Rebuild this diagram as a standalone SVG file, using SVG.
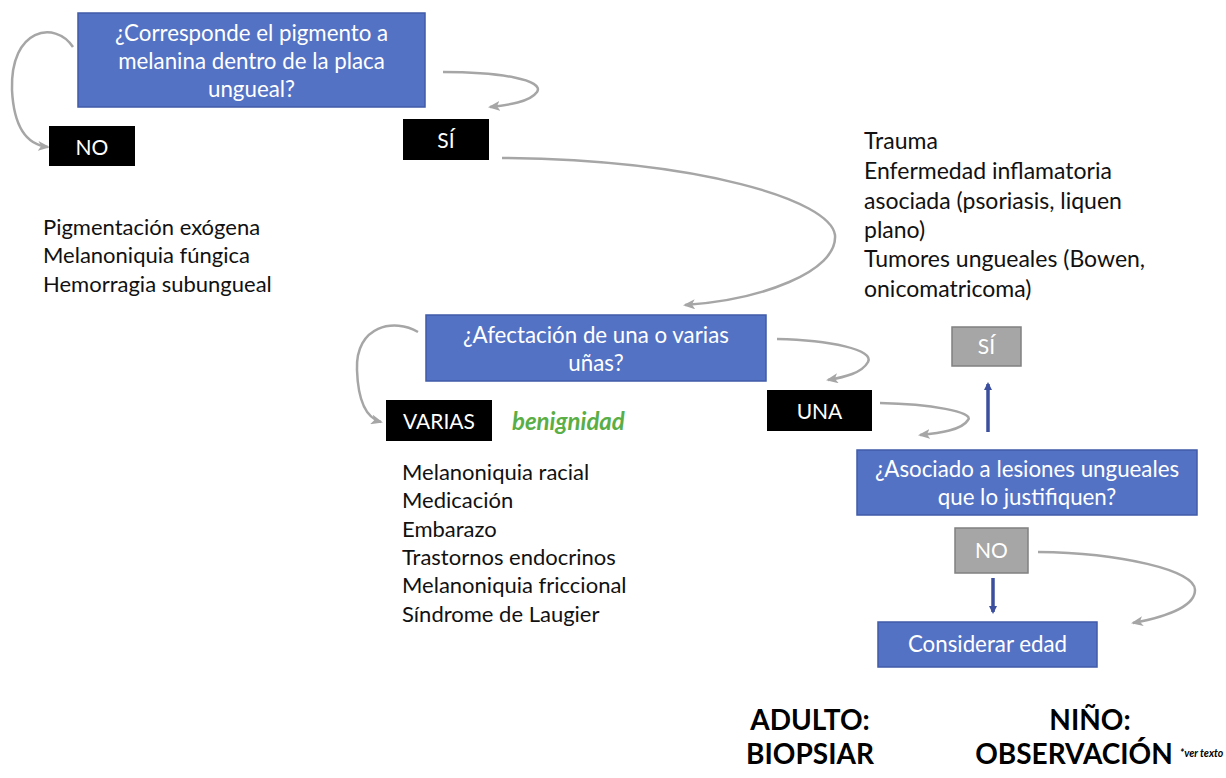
<svg xmlns="http://www.w3.org/2000/svg" width="1226" height="778" viewBox="0 0 1226 778">
<defs>
<style>
.q{fill:#5472C4;stroke:#3F5BA8;stroke-width:1.5}
.b{fill:#000}
.g{fill:#A6A6A6;stroke:#808080;stroke-width:1.5}
.wt{font-family:Lato,"Open Sans",sans-serif;font-size:21px;fill:#fff;text-anchor:middle}
.qt{font-size:22.3px}
.lt{font-family:Lato,"Open Sans",sans-serif;font-size:22px;fill:#111}
.rt{font-size:23px}
.con{fill:none;stroke:#A6A6A6;stroke-width:2.5}
.blu{fill:none;stroke:#3B4F9E;stroke-width:3.5}
.big{font-family:Lato,"Open Sans",sans-serif;font-size:28px;font-weight:bold;fill:#000;text-anchor:middle}
</style>
<marker id="ag" viewBox="0 0 12 10" refX="10" refY="5" markerWidth="12" markerHeight="10" markerUnits="userSpaceOnUse" orient="auto">
<path d="M0 0 L12 5 L0 10 L3 5 Z" fill="#A6A6A6"/>
</marker>
<marker id="ab" viewBox="0 0 8 8" refX="6" refY="4" markerWidth="8" markerHeight="8" markerUnits="userSpaceOnUse" orient="auto">
<path d="M0 0 L8 4 L0 8 Z" fill="#3B4F9E"/>
</marker>
</defs>
<rect width="1226" height="778" fill="#fff"/>

<g id="connectors">
<path class="con" marker-end="url(#ag)" d="M73 47 C55 20 10 28 12 90 C14 130 28 145 48 147"/>
<path class="con" marker-end="url(#ag)" d="M443 72 C500 72 545 80 537 92 C530 102 508 105 490 107"/>
<path class="con" marker-end="url(#ag)" d="M502 158 C700 160 830 200 835 235 C838 272 760 300 685 305"/>
<path class="con" marker-end="url(#ag)" d="M418 332 C395 318 355 325 357 370 C358 400 366 418 381 422"/>
<path class="con" marker-end="url(#ag)" d="M777 339 C830 340 875 350 868 362 C862 373 845 377 828 380"/>
<path class="con" marker-end="url(#ag)" d="M880 403 C930 404 975 412 968 420 C962 430 940 433 920 435"/>
<path class="con" marker-end="url(#ag)" d="M1038 552 C1120 553 1195 570 1195 590 C1195 608 1160 618 1133 623"/>
<path class="blu" marker-end="url(#ab)" d="M988 432 L988 384"/>
<path class="blu" marker-end="url(#ab)" d="M993 578 L993 612"/>
</g>

<g id="q1">
<rect class="q" x="78" y="13" width="347" height="94"/>
<text class="wt qt" x="251.5" y="41">¿Corresponde el pigmento a</text>
<text class="wt qt" x="251.5" y="69">melanina dentro de la placa</text>
<text class="wt qt" x="251.5" y="97">ungueal?</text>
</g>
<g id="no1">
<rect class="b" x="49" y="126" width="86" height="40"/>
<text class="wt" x="92" y="155">NO</text>
</g>
<g id="si1">
<rect class="b" x="403" y="119" width="86" height="41"/>
<text class="wt" x="446" y="148">SÍ</text>
</g>
<g id="list-no">
<text class="lt" x="43" y="235">Pigmentación exógena</text>
<text class="lt" x="43" y="263">Melanoniquia fúngica</text>
<text class="lt" x="43" y="292">Hemorragia subungueal</text>
</g>
<g id="list-si">
<text class="lt rt" x="864" y="149">Trauma</text>
<text class="lt rt" x="864" y="179">Enfermedad inflamatoria</text>
<text class="lt rt" x="864" y="209">asociada (psoriasis, liquen</text>
<text class="lt rt" x="864" y="238">plano)</text>
<text class="lt rt" x="864" y="267">Tumores ungueales (Bowen,</text>
<text class="lt rt" x="864" y="297">onicomatricoma)</text>
</g>
<g id="q2">
<rect class="q" x="426" y="315" width="340" height="66"/>
<text class="wt qt" x="596" y="343">¿Afectación de una o varias</text>
<text class="wt qt" x="596" y="371">uñas?</text>
</g>
<g id="varias">
<rect class="b" x="386" y="400" width="106" height="41"/>
<text class="wt" x="439" y="429">VARIAS</text>
</g>
<g id="benignidad">
<text x="512" y="430" font-family="Lato,'Open Sans',sans-serif" font-size="24" font-weight="bold" font-style="italic" fill="#5AAE46">benignidad</text>
</g>
<g id="list-varias">
<text class="lt" x="402" y="480">Melanoniquia racial</text>
<text class="lt" x="402" y="508">Medicación</text>
<text class="lt" x="402" y="537">Embarazo</text>
<text class="lt" x="402" y="565">Trastornos endocrinos</text>
<text class="lt" x="402" y="593">Melanoniquia friccional</text>
<text class="lt" x="402" y="622">Síndrome de Laugier</text>
</g>
<g id="una">
<rect class="b" x="767" y="390" width="105" height="41"/>
<text class="wt" x="819.5" y="419">UNA</text>
</g>
<g id="si2">
<rect class="g" x="952" y="327" width="69" height="39"/>
<text class="wt" x="986.5" y="354">SÍ</text>
</g>
<g id="q3">
<rect class="q" x="857" y="450" width="340" height="65"/>
<text class="wt qt" x="1027" y="477">¿Asociado a lesiones ungueales</text>
<text class="wt qt" x="1027" y="505">que lo justifiquen?</text>
</g>
<g id="no2">
<rect class="g" x="955" y="528" width="73" height="45"/>
<text class="wt" x="991.5" y="558">NO</text>
</g>
<g id="edad">
<rect class="q" x="878" y="622" width="219" height="45"/>
<text class="wt qt" x="987.5" y="652">Considerar edad</text>
</g>
<g id="adulto">
<text class="big" x="810" y="730">ADULTO:</text>
<text class="big" x="810" y="764">BIOPSIAR</text>
</g>
<g id="nino">
<text class="big" x="1090" y="730">NIÑO:</text>
<text class="big" x="1074" y="764">OBSERVACIÓN</text>
<text x="1180" y="757" font-family="Lato,'Open Sans',sans-serif" font-size="10.5" font-weight="bold" font-style="italic" fill="#000">*ver texto</text>
</g>
</svg>
